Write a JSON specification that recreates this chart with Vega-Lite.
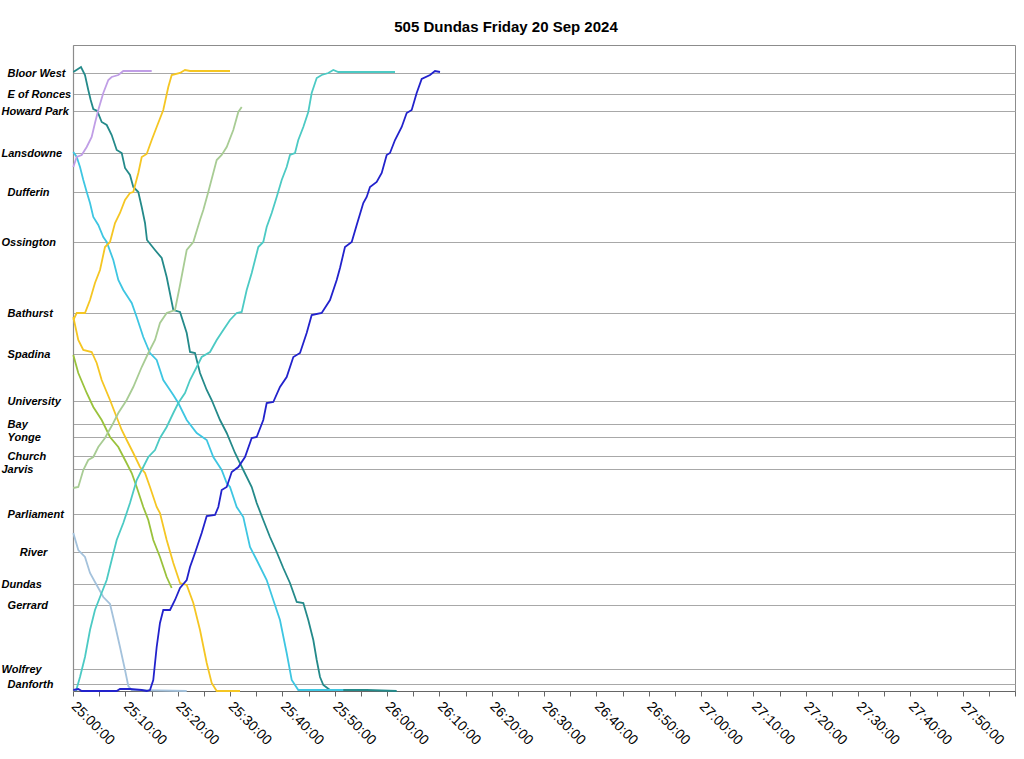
{
  "$schema": "https://vega.github.io/schema/vega-lite/v6.json",
  "width": 942,
  "height": 646,
  "autosize": {"type": "none"},
  "padding": {"left": 73, "top": 45, "right": 9, "bottom": 68},
  "background": "white",
  "title": {"text": "505 Dundas Friday 20 Sep 2024", "font": "Liberation Sans", "fontSize": 15, "fontWeight": "bold", "color": "#000000", "anchor": "middle", "dx": -38, "offset": 10},
  "config": {"view": {"stroke": "#8c8c8c", "strokeWidth": 1}},
  "data": {"values": [
    {"car":"teal","trip":"t1","min":0.06,"dist":619},{"car":"teal","trip":"t1","min":1.53,"dist":624},{"car":"teal","trip":"t1","min":2.29,"dist":616},{"car":"teal","trip":"t1","min":2.92,"dist":601},{"car":"teal","trip":"t1","min":3.38,"dist":591},{"car":"teal","trip":"t1","min":3.88,"dist":582},{"car":"teal","trip":"t1","min":4.64,"dist":580},{"car":"teal","trip":"t1","min":5.48,"dist":569},{"car":"teal","trip":"t1","min":6.44,"dist":566},{"car":"teal","trip":"t1","min":7.39,"dist":556},{"car":"teal","trip":"t1","min":8.35,"dist":541},{"car":"teal","trip":"t1","min":9.31,"dist":538},{"car":"teal","trip":"t1","min":9.94,"dist":523},{"car":"teal","trip":"t1","min":10.89,"dist":516},{"car":"teal","trip":"t1","min":11.52,"dist":504},{"car":"teal","trip":"t1","min":12.48,"dist":499},{"car":"teal","trip":"t1","min":13.13,"dist":484},{"car":"teal","trip":"t1","min":13.76,"dist":468},{"car":"teal","trip":"t1","min":14.14,"dist":451},{"car":"teal","trip":"t1","min":15.67,"dist":441},{"car":"teal","trip":"t1","min":16.95,"dist":433},{"car":"teal","trip":"t1","min":17.9,"dist":414},{"car":"teal","trip":"t1","min":19.17,"dist":381},{"car":"teal","trip":"t1","min":20.45,"dist":379},{"car":"teal","trip":"t1","min":21.73,"dist":358},{"car":"teal","trip":"t1","min":22.36,"dist":339},{"car":"teal","trip":"t1","min":23.31,"dist":338},{"car":"teal","trip":"t1","min":24.27,"dist":318},{"car":"teal","trip":"t1","min":25.55,"dist":301},{"car":"teal","trip":"t1","min":26.5,"dist":291},{"car":"teal","trip":"t1","min":28.09,"dist":271},{"car":"teal","trip":"t1","min":29.37,"dist":258},{"car":"teal","trip":"t1","min":30.96,"dist":238},{"car":"teal","trip":"t1","min":32.54,"dist":221},{"car":"teal","trip":"t1","min":34.15,"dist":204},{"car":"teal","trip":"t1","min":35.1,"dist":188},{"car":"teal","trip":"t1","min":36.36,"dist":171},{"car":"teal","trip":"t1","min":37.64,"dist":154},{"car":"teal","trip":"t1","min":38.92,"dist":139},{"car":"teal","trip":"t1","min":40.18,"dist":123},{"car":"teal","trip":"t1","min":41.46,"dist":108},{"car":"teal","trip":"t1","min":42.75,"dist":89},{"car":"teal","trip":"t1","min":44.01,"dist":88},{"car":"teal","trip":"t1","min":44.96,"dist":71},{"car":"teal","trip":"t1","min":45.92,"dist":51},{"car":"teal","trip":"t1","min":46.57,"dist":31},{"car":"teal","trip":"t1","min":47.2,"dist":14},{"car":"teal","trip":"t1","min":47.83,"dist":6},{"car":"teal","trip":"t1","min":49.11,"dist":1},{"car":"teal","trip":"t1","min":56.12,"dist":1},{"car":"teal","trip":"t1","min":61.85,"dist":0},

    {"car":"cyan","trip":"c1","min":0.06,"dist":539},{"car":"cyan","trip":"c1","min":0.71,"dist":534},{"car":"cyan","trip":"c1","min":1.34,"dist":524},{"car":"cyan","trip":"c1","min":1.97,"dist":511},{"car":"cyan","trip":"c1","min":2.62,"dist":499},{"car":"cyan","trip":"c1","min":3.25,"dist":488},{"car":"cyan","trip":"c1","min":3.88,"dist":474},{"car":"cyan","trip":"c1","min":4.83,"dist":466},{"car":"cyan","trip":"c1","min":5.79,"dist":454},{"car":"cyan","trip":"c1","min":6.44,"dist":449},{"car":"cyan","trip":"c1","min":7.7,"dist":431},{"car":"cyan","trip":"c1","min":8.66,"dist":411},{"car":"cyan","trip":"c1","min":9.61,"dist":401},{"car":"cyan","trip":"c1","min":11.22,"dist":388},{"car":"cyan","trip":"c1","min":12.17,"dist":374},{"car":"cyan","trip":"c1","min":13.43,"dist":354},{"car":"cyan","trip":"c1","min":14.71,"dist":338},{"car":"cyan","trip":"c1","min":15.99,"dist":331},{"car":"cyan","trip":"c1","min":17.25,"dist":311},{"car":"cyan","trip":"c1","min":19.17,"dist":296},{"car":"cyan","trip":"c1","min":20.12,"dist":288},{"car":"cyan","trip":"c1","min":21.73,"dist":271},{"car":"cyan","trip":"c1","min":23.64,"dist":258},{"car":"cyan","trip":"c1","min":25.55,"dist":251},{"car":"cyan","trip":"c1","min":26.81,"dist":234},{"car":"cyan","trip":"c1","min":28.41,"dist":221},{"car":"cyan","trip":"c1","min":29.37,"dist":208},{"car":"cyan","trip":"c1","min":30.0,"dist":204},{"car":"cyan","trip":"c1","min":31.28,"dist":184},{"car":"cyan","trip":"c1","min":32.54,"dist":174},{"car":"cyan","trip":"c1","min":33.82,"dist":144},{"car":"cyan","trip":"c1","min":35.1,"dist":131},{"car":"cyan","trip":"c1","min":37.01,"dist":111},{"car":"cyan","trip":"c1","min":38.27,"dist":91},{"car":"cyan","trip":"c1","min":39.55,"dist":71},{"car":"cyan","trip":"c1","min":40.83,"dist":38},{"car":"cyan","trip":"c1","min":41.79,"dist":11},{"car":"cyan","trip":"c1","min":43.05,"dist":1},{"car":"cyan","trip":"c1","min":51.65,"dist":1},

    {"car":"yellow","trip":"y1","min":0.06,"dist":371},{"car":"yellow","trip":"y1","min":0.71,"dist":378},{"car":"yellow","trip":"y1","min":2.29,"dist":378},{"car":"yellow","trip":"y1","min":3.25,"dist":391},{"car":"yellow","trip":"y1","min":4.2,"dist":408},{"car":"yellow","trip":"y1","min":5.16,"dist":421},{"car":"yellow","trip":"y1","min":6.11,"dist":444},{"car":"yellow","trip":"y1","min":7.07,"dist":449},{"car":"yellow","trip":"y1","min":8.03,"dist":468},{"car":"yellow","trip":"y1","min":8.98,"dist":478},{"car":"yellow","trip":"y1","min":9.94,"dist":491},{"car":"yellow","trip":"y1","min":10.89,"dist":498},{"car":"yellow","trip":"y1","min":11.52,"dist":499},{"car":"yellow","trip":"y1","min":12.48,"dist":518},{"car":"yellow","trip":"y1","min":13.13,"dist":534},{"car":"yellow","trip":"y1","min":14.08,"dist":537},{"car":"yellow","trip":"y1","min":15.04,"dist":551},{"car":"yellow","trip":"y1","min":15.99,"dist":564},{"car":"yellow","trip":"y1","min":17.25,"dist":581},{"car":"yellow","trip":"y1","min":18.21,"dist":604},{"car":"yellow","trip":"y1","min":18.86,"dist":616},{"car":"yellow","trip":"y1","min":20.45,"dist":618},{"car":"yellow","trip":"y1","min":21.4,"dist":621},{"car":"yellow","trip":"y1","min":22.36,"dist":620},{"car":"yellow","trip":"y1","min":30.0,"dist":620},

    {"car":"yellow","trip":"y2","min":0.06,"dist":374},{"car":"yellow","trip":"y2","min":1.01,"dist":351},{"car":"yellow","trip":"y2","min":1.97,"dist":341},{"car":"yellow","trip":"y2","min":3.57,"dist":339},{"car":"yellow","trip":"y2","min":4.53,"dist":328},{"car":"yellow","trip":"y2","min":5.48,"dist":311},{"car":"yellow","trip":"y2","min":7.07,"dist":291},{"car":"yellow","trip":"y2","min":8.03,"dist":278},{"car":"yellow","trip":"y2","min":9.31,"dist":261},{"car":"yellow","trip":"y2","min":10.26,"dist":251},{"car":"yellow","trip":"y2","min":11.52,"dist":238},{"car":"yellow","trip":"y2","min":12.8,"dist":224},{"car":"yellow","trip":"y2","min":13.76,"dist":218},{"car":"yellow","trip":"y2","min":14.71,"dist":204},{"car":"yellow","trip":"y2","min":15.99,"dist":184},{"car":"yellow","trip":"y2","min":16.62,"dist":178},{"car":"yellow","trip":"y2","min":17.9,"dist":151},{"car":"yellow","trip":"y2","min":19.17,"dist":128},{"car":"yellow","trip":"y2","min":20.45,"dist":108},{"car":"yellow","trip":"y2","min":21.73,"dist":106},{"car":"yellow","trip":"y2","min":22.99,"dist":88},{"car":"yellow","trip":"y2","min":24.27,"dist":61},{"car":"yellow","trip":"y2","min":25.55,"dist":28},{"car":"yellow","trip":"y2","min":26.5,"dist":8},{"car":"yellow","trip":"y2","min":27.46,"dist":0},{"car":"yellow","trip":"y2","min":31.91,"dist":0},

    {"car":"olive","trip":"g1","min":0.06,"dist":336},{"car":"olive","trip":"g1","min":1.01,"dist":318},{"car":"olive","trip":"g1","min":2.62,"dist":298},{"car":"olive","trip":"g1","min":3.88,"dist":284},{"car":"olive","trip":"g1","min":5.48,"dist":271},{"car":"olive","trip":"g1","min":7.07,"dist":254},{"car":"olive","trip":"g1","min":8.66,"dist":244},{"car":"olive","trip":"g1","min":9.94,"dist":231},{"car":"olive","trip":"g1","min":11.22,"dist":218},{"car":"olive","trip":"g1","min":12.17,"dist":204},{"car":"olive","trip":"g1","min":13.43,"dist":184},{"car":"olive","trip":"g1","min":14.39,"dist":171},{"car":"olive","trip":"g1","min":15.34,"dist":151},{"car":"olive","trip":"g1","min":16.62,"dist":134},{"car":"olive","trip":"g1","min":17.9,"dist":114},{"car":"olive","trip":"g1","min":18.86,"dist":103},

    {"car":"sage","trip":"s1","min":0.06,"dist":203},{"car":"sage","trip":"s1","min":1.01,"dist":204},{"car":"sage","trip":"s1","min":1.97,"dist":221},{"car":"sage","trip":"s1","min":2.92,"dist":231},{"car":"sage","trip":"s1","min":3.88,"dist":234},{"car":"sage","trip":"s1","min":4.83,"dist":244},{"car":"sage","trip":"s1","min":6.11,"dist":253},{"car":"sage","trip":"s1","min":7.7,"dist":268},{"car":"sage","trip":"s1","min":8.66,"dist":278},{"car":"sage","trip":"s1","min":10.26,"dist":291},{"car":"sage","trip":"s1","min":11.52,"dist":304},{"car":"sage","trip":"s1","min":13.13,"dist":324},{"car":"sage","trip":"s1","min":14.39,"dist":338},{"car":"sage","trip":"s1","min":15.67,"dist":351},{"car":"sage","trip":"s1","min":16.62,"dist":368},{"car":"sage","trip":"s1","min":17.9,"dist":378},{"car":"sage","trip":"s1","min":19.49,"dist":381},{"car":"sage","trip":"s1","min":20.45,"dist":406},{"car":"sage","trip":"s1","min":21.73,"dist":441},{"car":"sage","trip":"s1","min":22.99,"dist":449},{"car":"sage","trip":"s1","min":24.27,"dist":471},{"car":"sage","trip":"s1","min":24.9,"dist":481},{"car":"sage","trip":"s1","min":25.85,"dist":499},{"car":"sage","trip":"s1","min":27.46,"dist":531},{"car":"sage","trip":"s1","min":28.41,"dist":536},{"car":"sage","trip":"s1","min":29.37,"dist":544},{"car":"sage","trip":"s1","min":30.63,"dist":561},{"car":"sage","trip":"s1","min":31.59,"dist":579},{"car":"sage","trip":"s1","min":32.24,"dist":584},

    {"car":"lavender","trip":"l1","min":0.06,"dist":524},{"car":"lavender","trip":"l1","min":0.71,"dist":534},{"car":"lavender","trip":"l1","min":1.66,"dist":536},{"car":"lavender","trip":"l1","min":2.62,"dist":544},{"car":"lavender","trip":"l1","min":3.57,"dist":554},{"car":"lavender","trip":"l1","min":4.2,"dist":568},{"car":"lavender","trip":"l1","min":4.83,"dist":581},{"car":"lavender","trip":"l1","min":5.79,"dist":598},{"car":"lavender","trip":"l1","min":6.75,"dist":611},{"car":"lavender","trip":"l1","min":7.39,"dist":614},{"car":"lavender","trip":"l1","min":8.66,"dist":616},{"car":"lavender","trip":"l1","min":9.61,"dist":620},{"car":"lavender","trip":"l1","min":10.26,"dist":620},{"car":"lavender","trip":"l1","min":15.04,"dist":620},

    {"car":"steel","trip":"b1","min":0.06,"dist":158},{"car":"steel","trip":"b1","min":1.01,"dist":141},{"car":"steel","trip":"b1","min":2.29,"dist":134},{"car":"steel","trip":"b1","min":3.25,"dist":118},{"car":"steel","trip":"b1","min":4.2,"dist":109},{"car":"steel","trip":"b1","min":5.79,"dist":94},{"car":"steel","trip":"b1","min":7.07,"dist":87},{"car":"steel","trip":"b1","min":8.03,"dist":66},{"car":"steel","trip":"b1","min":8.98,"dist":44},{"car":"steel","trip":"b1","min":9.94,"dist":21},{"car":"steel","trip":"b1","min":10.57,"dist":5},{"car":"steel","trip":"b1","min":11.22,"dist":1},{"car":"steel","trip":"b1","min":21.73,"dist":0},

    {"car":"turq","trip":"q1","min":0.57,"dist":0},{"car":"turq","trip":"q1","min":1.34,"dist":14},{"car":"turq","trip":"q1","min":2.29,"dist":34},{"car":"turq","trip":"q1","min":3.25,"dist":61},{"car":"turq","trip":"q1","min":4.2,"dist":81},{"car":"turq","trip":"q1","min":5.16,"dist":94},{"car":"turq","trip":"q1","min":6.44,"dist":111},{"car":"turq","trip":"q1","min":7.39,"dist":131},{"car":"turq","trip":"q1","min":8.35,"dist":151},{"car":"turq","trip":"q1","min":9.61,"dist":168},{"car":"turq","trip":"q1","min":10.89,"dist":188},{"car":"turq","trip":"q1","min":12.17,"dist":211},{"car":"turq","trip":"q1","min":13.43,"dist":224},{"car":"turq","trip":"q1","min":14.39,"dist":234},{"car":"turq","trip":"q1","min":15.67,"dist":241},{"car":"turq","trip":"q1","min":16.62,"dist":253},{"car":"turq","trip":"q1","min":17.9,"dist":264},{"car":"turq","trip":"q1","min":19.17,"dist":278},{"car":"turq","trip":"q1","min":20.12,"dist":288},{"car":"turq","trip":"q1","min":21.4,"dist":298},{"car":"turq","trip":"q1","min":22.36,"dist":311},{"car":"turq","trip":"q1","min":23.64,"dist":324},{"car":"turq","trip":"q1","min":24.59,"dist":334},{"car":"turq","trip":"q1","min":26.18,"dist":339},{"car":"turq","trip":"q1","min":27.46,"dist":351},{"car":"turq","trip":"q1","min":28.72,"dist":361},{"car":"turq","trip":"q1","min":30.0,"dist":371},{"car":"turq","trip":"q1","min":31.28,"dist":378},{"car":"turq","trip":"q1","min":32.24,"dist":379},{"car":"turq","trip":"q1","min":33.19,"dist":401},{"car":"turq","trip":"q1","min":34.15,"dist":418},{"car":"turq","trip":"q1","min":35.41,"dist":444},{"car":"turq","trip":"q1","min":36.36,"dist":449},{"car":"turq","trip":"q1","min":37.01,"dist":464},{"car":"turq","trip":"q1","min":37.97,"dist":478},{"car":"turq","trip":"q1","min":38.92,"dist":494},{"car":"turq","trip":"q1","min":39.88,"dist":511},{"car":"turq","trip":"q1","min":40.83,"dist":524},{"car":"turq","trip":"q1","min":41.46,"dist":536},{"car":"turq","trip":"q1","min":42.42,"dist":538},{"car":"turq","trip":"q1","min":43.05,"dist":551},{"car":"turq","trip":"q1","min":44.01,"dist":564},{"car":"turq","trip":"q1","min":44.96,"dist":579},{"car":"turq","trip":"q1","min":45.61,"dist":598},{"car":"turq","trip":"q1","min":46.57,"dist":613},{"car":"turq","trip":"q1","min":47.52,"dist":616},{"car":"turq","trip":"q1","min":48.78,"dist":618},{"car":"turq","trip":"q1","min":49.74,"dist":621},{"car":"turq","trip":"q1","min":50.69,"dist":619},{"car":"turq","trip":"q1","min":61.53,"dist":619},

    {"car":"blue","trip":"d1","min":0.06,"dist":1},{"car":"blue","trip":"d1","min":1.01,"dist":2},{"car":"blue","trip":"d1","min":1.66,"dist":0},{"car":"blue","trip":"d1","min":8.35,"dist":0},{"car":"blue","trip":"d1","min":8.98,"dist":2},{"car":"blue","trip":"d1","min":10.89,"dist":2},{"car":"blue","trip":"d1","min":13.13,"dist":1},{"car":"blue","trip":"d1","min":14.08,"dist":0},{"car":"blue","trip":"d1","min":14.71,"dist":1},{"car":"blue","trip":"d1","min":15.34,"dist":11},{"car":"blue","trip":"d1","min":15.99,"dist":44},{"car":"blue","trip":"d1","min":16.62,"dist":68},{"car":"blue","trip":"d1","min":17.25,"dist":81},{"car":"blue","trip":"d1","min":18.54,"dist":81},{"car":"blue","trip":"d1","min":19.49,"dist":91},{"car":"blue","trip":"d1","min":20.45,"dist":103},{"car":"blue","trip":"d1","min":21.73,"dist":111},{"car":"blue","trip":"d1","min":22.36,"dist":124},{"car":"blue","trip":"d1","min":23.31,"dist":138},{"car":"blue","trip":"d1","min":24.59,"dist":158},{"car":"blue","trip":"d1","min":25.55,"dist":175},{"car":"blue","trip":"d1","min":27.13,"dist":176},{"car":"blue","trip":"d1","min":27.77,"dist":184},{"car":"blue","trip":"d1","min":28.41,"dist":201},{"car":"blue","trip":"d1","min":29.37,"dist":204},{"car":"blue","trip":"d1","min":30.33,"dist":219},{"car":"blue","trip":"d1","min":31.59,"dist":224},{"car":"blue","trip":"d1","min":32.87,"dist":234},{"car":"blue","trip":"d1","min":34.15,"dist":253},{"car":"blue","trip":"d1","min":35.1,"dist":254},{"car":"blue","trip":"d1","min":36.36,"dist":271},{"car":"blue","trip":"d1","min":37.01,"dist":288},{"car":"blue","trip":"d1","min":38.27,"dist":289},{"car":"blue","trip":"d1","min":39.55,"dist":304},{"car":"blue","trip":"d1","min":40.83,"dist":314},{"car":"blue","trip":"d1","min":42.1,"dist":334},{"car":"blue","trip":"d1","min":43.38,"dist":338},{"car":"blue","trip":"d1","min":44.65,"dist":358},{"car":"blue","trip":"d1","min":45.61,"dist":376},{"car":"blue","trip":"d1","min":47.52,"dist":378},{"car":"blue","trip":"d1","min":49.11,"dist":391},{"car":"blue","trip":"d1","min":50.39,"dist":411},{"car":"blue","trip":"d1","min":51.02,"dist":423},{"car":"blue","trip":"d1","min":51.97,"dist":444},{"car":"blue","trip":"d1","min":53.26,"dist":449},{"car":"blue","trip":"d1","min":54.21,"dist":466},{"car":"blue","trip":"d1","min":55.47,"dist":488},{"car":"blue","trip":"d1","min":56.12,"dist":494},{"car":"blue","trip":"d1","min":56.75,"dist":504},{"car":"blue","trip":"d1","min":58.03,"dist":509},{"car":"blue","trip":"d1","min":58.99,"dist":518},{"car":"blue","trip":"d1","min":59.94,"dist":536},{"car":"blue","trip":"d1","min":60.57,"dist":538},{"car":"blue","trip":"d1","min":61.53,"dist":551},{"car":"blue","trip":"d1","min":62.81,"dist":564},{"car":"blue","trip":"d1","min":63.76,"dist":578},{"car":"blue","trip":"d1","min":64.72,"dist":581},{"car":"blue","trip":"d1","min":65.67,"dist":598},{"car":"blue","trip":"d1","min":66.63,"dist":612},{"car":"blue","trip":"d1","min":68.22,"dist":616},{"car":"blue","trip":"d1","min":69.17,"dist":620},{"car":"blue","trip":"d1","min":70.13,"dist":619}
  ]},
  "mark": {"type": "line", "strokeWidth": 1.8, "interpolate": "linear"},
  "encoding": {
    "x": {
      "field": "min", "type": "quantitative",
      "scale": {"domain": [0, 180], "nice": false, "zero": false},
      "axis": {
        "title": null,
        "values": [0,5,10,15,20,25,30,35,40,45,50,55,60,65,70,75,80,85,90,95,100,105,110,115,120,125,130,135,140,145,150,155,160,165,170,175,180],
        "labelExpr": "datum.value % 10 == 0 && datum.value < 180 ? (25 + floor(datum.value / 60)) + ':' + (datum.value % 60 == 0 ? '00' : '' + (datum.value % 60)) + ':00' : ''",
        "labelAngle": 45, "labelAlign": "left", "labelBaseline": "middle",
        "labelFont": "Liberation Sans", "labelFontSize": 14, "labelColor": "#000000",
        "labelPadding": 8, "labelOverlap": false, "labelBound": false, "labelFlush": false,
        "tickSize": 5, "tickColor": "#666666", "tickWidth": 1,
        "domainColor": "#666666", "domainWidth": 1.2, "grid": false
      }
    },
    "y": {
      "field": "dist", "type": "quantitative",
      "scale": {"domain": [0, 646], "nice": false, "zero": false},
      "axis": {
        "title": null,
        "values": [7,22,86,107,139,177,222,235,254,267,290,337,378,449,499,538,580,597,618],
        "labelExpr": "['\u200b\u00a0\u00a0Danforth','Wolfrey','\u200b\u00a0\u00a0Gerrard','Dundas','\u200b\u00a0\u00a0\u00a0\u00a0\u00a0\u00a0River','\u200b\u00a0\u00a0Parliament','Jarvis','\u200b\u00a0\u00a0Church','\u200b\u00a0\u00a0Yonge','\u200b\u00a0\u00a0Bay','\u200b\u00a0\u00a0University','\u200b\u00a0\u00a0Spadina','\u200b\u00a0\u00a0Bathurst','Ossington','\u200b\u00a0\u00a0Dufferin','Lansdowne','Howard Park','\u200b\u00a0\u00a0E of Ronces','\u200b\u00a0\u00a0Bloor West'][indexof([7,22,86,107,139,177,222,235,254,267,290,337,378,449,499,538,580,597,618], datum.value)]",
        "grid": true, "gridColor": "#a8a8a8", "gridWidth": 1,
        "ticks": false, "tickSize": 0,
        "domainColor": "#8c8c8c", "domainWidth": 1.2,
        "labelAlign": "left", "labelBaseline": "middle", "labelPadding": 72,
        "labelFont": "Liberation Sans", "labelFontSize": 11, "labelFontWeight": "bold", "labelFontStyle": "italic",
        "labelColor": "#000000", "labelOverlap": false, "labelBound": false, "labelFlush": false
      }
    },
    "color": {
      "field": "car", "type": "nominal", "legend": null,
      "scale": {
        "domain": ["teal","cyan","yellow","olive","sage","lavender","steel","turq","blue"],
        "range": ["#248a8a","#3ec6e2","#f5c623","#9ac23c","#a8cc94","#c09ee6","#a4c2dc","#4ccac4","#2222cc"]
      }
    },
    "detail": {"field": "trip", "type": "nominal"}
  }
}
